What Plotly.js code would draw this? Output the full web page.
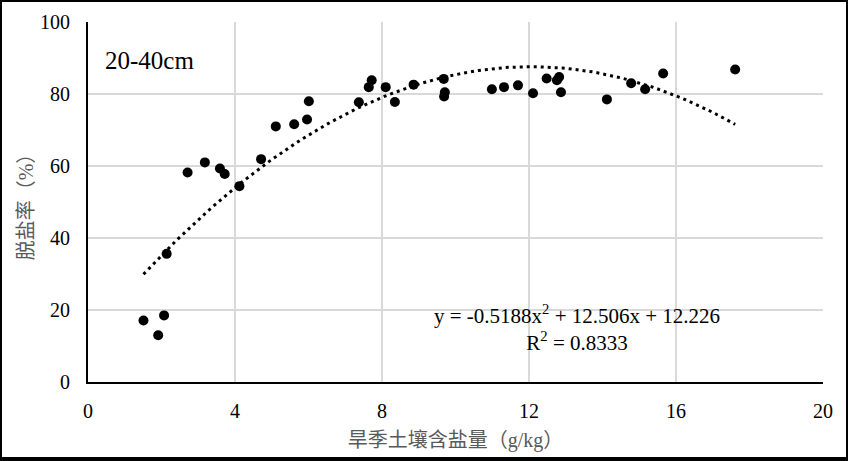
<!DOCTYPE html>
<html>
<head>
<meta charset="utf-8">
<script src="https://cdn.plot.ly/plotly-3.0.1.min.js"></script>
<style>
  html, body { margin: 0; padding: 0; background: #fff; }
  #wrap { position: relative; width: 848px; height: 461px; }
  #chart { width: 848px; height: 461px; }
  #frame { position: absolute; left: 0; top: 0; width: 848px; height: 461px; box-sizing: border-box;
           border: 2px solid #000; border-bottom-width: 4px; pointer-events: none; }
</style>
</head>
<body>
<div id="wrap"><div id="chart"></div><div id="frame"></div></div>
<script>
// Dry-season soil salt content (g/kg)
var saltX = [1.51, 1.91, 2.07, 2.14, 2.71, 3.18, 3.59, 3.72, 4.12, 4.71, 5.11, 5.61, 5.96, 6.01,
             7.37, 7.64, 7.72, 8.10, 8.35, 8.86, 9.68, 9.71, 9.69, 10.99, 11.32, 11.70, 12.11,
             12.48, 12.76, 12.82, 12.87, 14.12, 14.78, 15.16, 15.65, 17.61];
// Desalination rate (%)
var desaltY = [17.1, 13.0, 18.5, 35.6, 58.2, 61.0, 59.3, 57.8, 54.4, 61.9, 71.0, 71.6, 72.9, 78.0,
               77.7, 81.9, 83.8, 81.9, 77.8, 82.6, 84.2, 80.5, 79.3, 81.3, 81.9, 82.4, 80.2,
               84.3, 83.8, 84.7, 80.5, 78.5, 83.0, 81.3, 85.7, 86.8];
// Polynomial trendline coefficients shown on the chart: a*x^2 + b*x + c
var trendCoef = [-0.5188, 12.506, 12.226];
var r2Text = "0.8333";
var xTicks = [0, 4, 8, 12, 16, 20];
var yTicks = [0, 20, 40, 60, 80, 100];
var labelText = "20-40cm";
var xTitle = "旱季土壤含盐量（g/kg）";
var yTitle = "脱盐率（%）";

var xmin = Math.min.apply(null, saltX), xmax = Math.max.apply(null, saltX);
var tx = [], ty = [];
var n = 120;
for (var i = 0; i <= n; i++) {
  var x = xmin + (xmax - xmin) * i / n;
  tx.push(x);
  ty.push(trendCoef[0] * x * x + trendCoef[1] * x + trendCoef[2]);
}

var serif = '"Times New Roman", "Liberation Serif", "Noto Sans CJK SC", serif';
var cjk = '"Times New Roman", "Liberation Serif", "Noto Sans CJK SC", serif';

var data = [
  { x: saltX, y: desaltY, type: 'scatter', mode: 'markers',
    marker: { color: '#000', size: 10 }, hoverinfo: 'skip', showlegend: false },
  { x: tx, y: ty, type: 'scatter', mode: 'lines',
    line: { color: '#000', width: 3, dash: '3px,4px' }, hoverinfo: 'skip', showlegend: false }
];

var eqText = 'y = ' + trendCoef[0] + 'x<sup>2</sup> + ' + trendCoef[1] + 'x + ' + trendCoef[2] +
             '<br>R<sup>2</sup> = ' + r2Text;

var layout = {
  width: 848, height: 461,
  margin: { l: 88, r: 25, t: 22, b: 79 },
  paper_bgcolor: '#fff', plot_bgcolor: '#fff',
  showlegend: false,
  font: { family: serif, color: '#000', size: 20 },
  xaxis: {
    range: [0, 20], tickvals: xTicks, ticktext: xTicks.map(String),
    showgrid: true, gridcolor: '#d9d9d9', gridwidth: 1.5,
    zeroline: false, showline: true, linecolor: '#000', linewidth: 2,
    ticks: '', ticklabelstandoff: 10,
    tickfont: { family: serif, size: 20, color: '#000' },
    title: { text: xTitle, font: { family: cjk, size: 20, color: '#595959' }, standoff: 12 }
  },
  yaxis: {
    range: [0, 100], tickvals: yTicks, ticktext: yTicks.map(String),
    showgrid: true, gridcolor: '#d9d9d9', gridwidth: 1.5,
    zeroline: false, showline: true, linecolor: '#000', linewidth: 2,
    ticks: '', ticklabelstandoff: 12,
    tickfont: { family: serif, size: 20, color: '#000' },
    title: { text: yTitle, font: { family: cjk, size: 20, color: '#595959' }, standoff: 1 }
  },
  annotations: [
    { xref: 'paper', yref: 'paper', x: 0.0204, y: 0.894, xanchor: 'left', yanchor: 'middle',
      text: labelText, showarrow: false, font: { family: serif, size: 25, color: '#000' } },
    { xref: 'paper', yref: 'paper', x: 0.665, y: 0.151, xanchor: 'center', yanchor: 'middle',
      text: eqText, showarrow: false, align: 'center', font: { family: serif, size: 21, color: '#000' } }
  ]
};

Plotly.newPlot('chart', data, layout, { staticPlot: true, displayModeBar: false });
</script>
</body>
</html>
